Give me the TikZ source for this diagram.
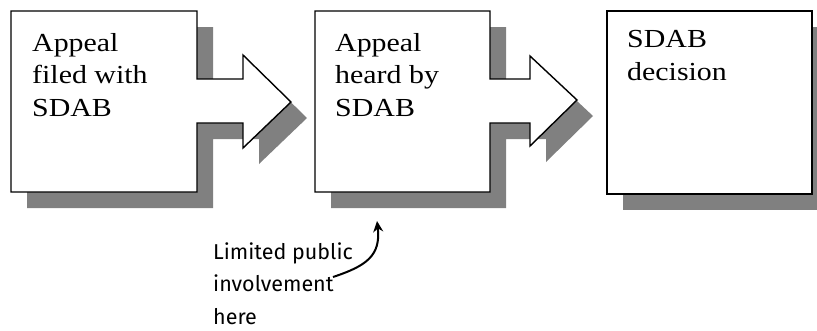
\documentclass[tikz,border=0pt]{standalone}
\usepackage{fontspec}
\usetikzlibrary{arrows.meta}
\newfontfamily\boxfont{Liberation Serif}[FakeStretch=1.15]
\newfontfamily\handfont{Fira Sans}
\definecolor{shadowgray}{HTML}{808080}
\begin{document}
\begin{tikzpicture}[x=1pt,y=-1pt,
  shadowshape/.style={fill=shadowgray,draw=none},
  stepshape/.style={fill=white,draw=black,line width=1.4pt,line join=miter},
  steplabel/.style={anchor=base west,inner sep=0pt,align=left,
    font=\boxfont\fontsize{26}{32.5}\selectfont},
  notelabel/.style={anchor=base west,inner sep=0pt,align=left,
    font=\handfont\fontsize{21.5}{32.5}\selectfont},
  notearrow/.style={line width=2pt,-{Stealth[length=11pt,width=10pt]}}]
\useasboundingbox (0,0) rectangle (817,330);
% drop shadows, offset down and to the right
\begin{scope}[shift={(16,16)}]
  \fill[shadowgray] (11,11) -- (197,11) -- (197,79) -- (243,79) -- (243,55)
    -- (291,102) -- (243,148) -- (243,123) -- (197,123) -- (197,192)
    -- (11,192) -- cycle;
  \fill[shadowgray] (315,11) -- (490,11) -- (490,79) -- (530,79) -- (530,56)
    -- (577,100) -- (530,146) -- (530,123) -- (490,123) -- (490,192)
    -- (315,192) -- cycle;
  \fill[shadowgray] (607,11) rectangle (812,194);
\end{scope}
% process steps with their block arrows
\draw[stepshape] (11,11) -- (197,11) -- (197,79) -- (243,79) -- (243,55)
  -- (291,102) -- (243,148) -- (243,123) -- (197,123) -- (197,192)
  -- (11,192) -- cycle;
\draw[stepshape] (315,11) -- (490,11) -- (490,79) -- (530,79) -- (530,56)
  -- (577,100) -- (530,146) -- (530,123) -- (490,123) -- (490,192)
  -- (315,192) -- cycle;
\draw[stepshape] (607,11) rectangle (812,194);
% labels are placed by the baseline of their last line
\node[steplabel] (filed) at (32,116) {Appeal\\filed with\\SDAB};
\node[steplabel] (heard) at (335,116) {Appeal\\heard by\\SDAB};
\node[steplabel] (decision) at (627,80) {SDAB\\decision};
% annotation
\node[notelabel] (note) at (213,324) {Limited public\\involvement\\here};
\coordinate (notestart) at (333,277);
\coordinate (hearing) at (377,221);
\draw[notearrow] (notestart) .. controls (366,266) and (381,256) .. (hearing);
\end{tikzpicture}
\end{document}
